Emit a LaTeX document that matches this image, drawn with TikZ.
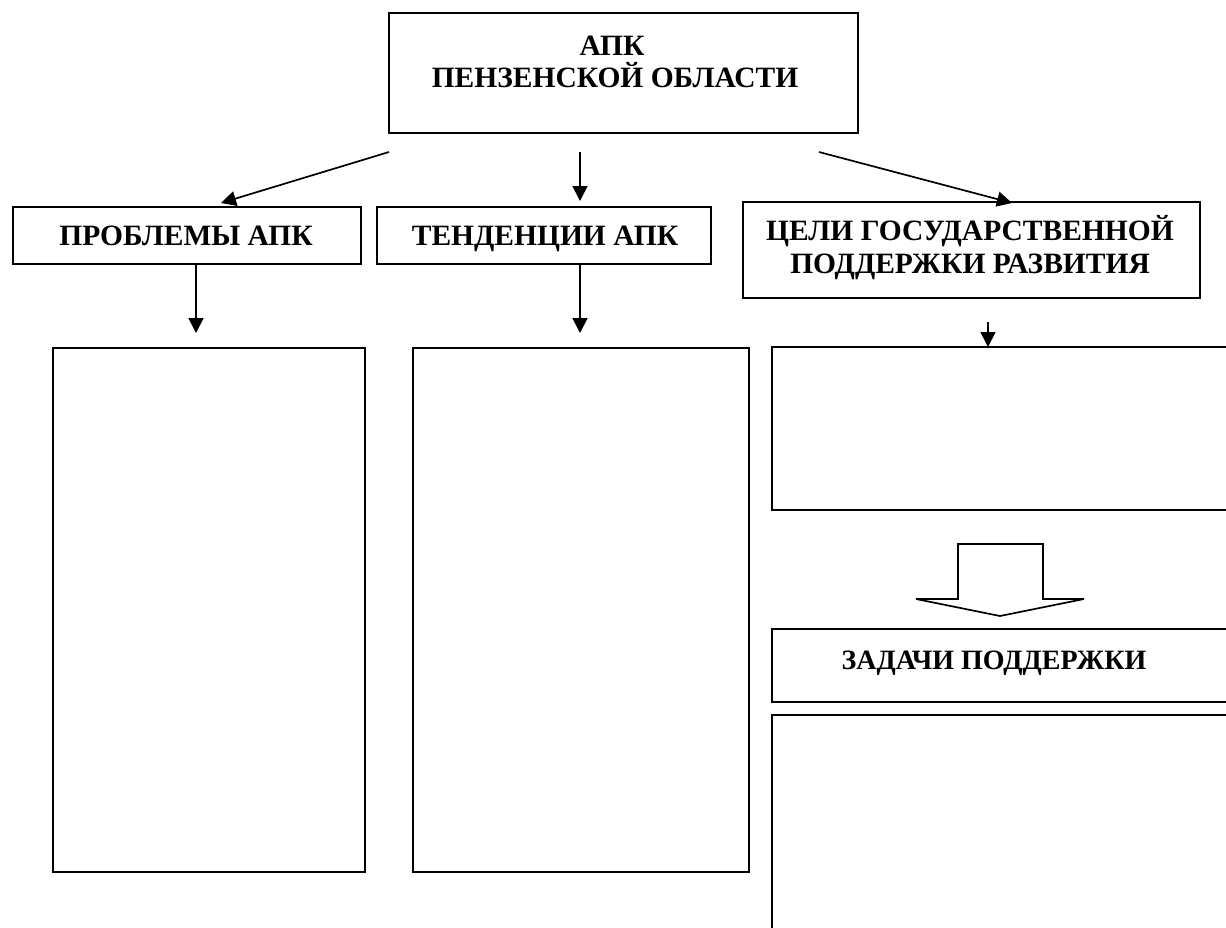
\documentclass[tikz,border=0pt]{standalone}
\usepackage{fontspec}
\setmainfont{Liberation Serif}
\usetikzlibrary{arrows.meta}
\begin{document}
\begin{tikzpicture}[x=1pt,y=-1pt,
  line width=1.9pt,
  box/.style={draw,line width=1.9pt,inner sep=0pt,anchor=north west},
  lbl/.style={font=\fontsize{29.5}{33}\selectfont\bfseries,inner sep=0pt,anchor=base},
  arr/.style={-{Triangle[length=15pt,width=15pt]},line width=1.7pt}]
\useasboundingbox (0,0) rectangle (1226,927);
% top box
\node[box,minimum width=469pt,minimum height=120pt] (top) at (388,12) {};
\node[lbl] (topA) at (612,55) {АПК};
\node[lbl] (topB) at (615,87) {ПЕНЗЕНСКОЙ ОБЛАСТИ};
% second level boxes
\node[box,minimum width=348pt,minimum height=57pt] (prob) at (12,206) {};
\node[lbl] (probt) at (186,245) {ПРОБЛЕМЫ АПК};
\node[box,minimum width=334pt,minimum height=57pt] (tend) at (376,206) {};
\node[lbl] (tendt) at (545,245) {ТЕНДЕНЦИИ АПК};
\node[box,minimum width=457pt,minimum height=96pt] (celi) at (742,201) {};
\node[lbl] (celiA) at (970,240) {ЦЕЛИ ГОСУДАРСТВЕННОЙ};
\node[lbl] (celiB) at (970,273) {ПОДДЕРЖКИ РАЗВИТИЯ};
% big boxes
\node[box,minimum width=312pt,minimum height=524pt] (pbig) at (52,347) {};
\node[box,minimum width=336pt,minimum height=524pt] (tbig) at (412,347) {};
% open right boxes
\coordinate (r1) at (988,347);
\draw (1230,347) -- (772,347) -- (772,510) -- (1230,510);
\coordinate (zt) at (1000,629);
\draw (1230,629) -- (772,629) -- (772,702) -- (1230,702);
\node[lbl,font=\fontsize{28}{32}\selectfont\bfseries] (zad) at (994,669) {ЗАДАЧИ ПОДДЕРЖКИ};
\draw (1230,715) -- (772,715) -- (772,930);
% arrows from top
\coordinate (a1) at (389,152);
\coordinate (a2) at (580,152);
\coordinate (a3) at (819,152);
\draw[arr] (a1) -- (221,203);
\draw[arr] (a2) -- (580,201);
\draw[arr] (a3) -- (1012,203);
% arrows down
\coordinate (p1) at (196,263);
\coordinate (p2) at (196,333);
\coordinate (t1) at (580,263);
\coordinate (t2) at (580,333);
\draw[arr] (p1) -- (p2);
\draw[arr] (t1) -- (t2);
\coordinate (r1s) at (988,322);
\draw[arr] (r1s) -- (r1);
% hollow block arrow
\draw[line width=1.7pt,line join=miter] (958,544) -- (1043,544) -- (1043,599) -- (1084,599) -- (zt |- 0,616) -- (916,599) -- (958,599) -- cycle;
\end{tikzpicture}
\end{document}
